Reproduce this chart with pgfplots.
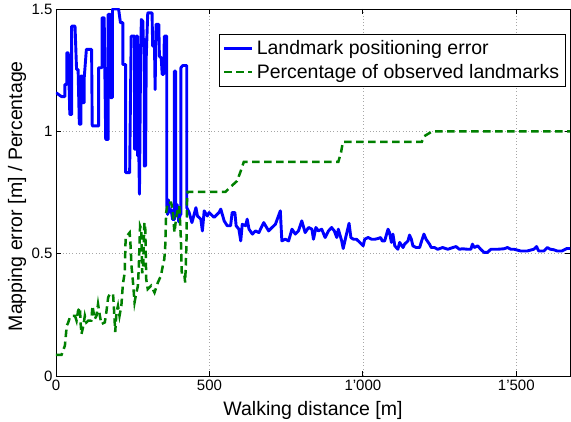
\documentclass[border=0pt]{standalone}
\usepackage{pgfplots}
\pgfplotsset{compat=1.18}
\usepackage{fontspec}
\setmainfont{Liberation Sans}
\usetikzlibrary{calc}
\definecolor{mblue}{rgb}{0,0,1}
\definecolor{mgreen}{rgb}{0,0.5,0}

\begin{document}
\begin{tikzpicture}
\begin{axis}[
  scale only axis, width=514pt, height=367pt,
  xmin=0, xmax=1675, ymin=0, ymax=1.5,
  xtick={0,500,1000,1500}, xticklabels={0,500,\mbox{1’000},\mbox{1’500}},
  ytick={0,0.5,1,1.5}, yticklabels={0,0.5,1,1.5},
  tick align=inside, major tick length=5pt,
  axis line style={line width=0.9pt},
  every tick/.style={black, line width=0.8pt},
  grid=major, grid style={gray!70, line width=0.7pt, dash pattern=on 0.7pt off 2.6pt},
  /pgf/number format/assume math mode=true,
  tick label style={font=\fontsize{15}{18}\selectfont},
  label style={font=\fontsize{19.5}{23}\selectfont},
  xlabel={Walking distance [m]},
  ylabel={Mapping error [m] / Percentage},
  xlabel style={at={(axis description cs:0.5,-0.094)}, anchor=center},
  ylabel style={at={(axis description cs:-0.0759,0.49)}, anchor=center},
  legend style={at={(axis description cs:0.992,0.933)}, anchor=north east,
    draw=black, fill=white,
    font=\fontsize{19.5}{23}\selectfont, inner sep=3.5pt, row sep=2.5pt,
    nodes={inner sep=3pt}},
  legend cell align=left,
  legend image code/.code={\draw[#1] (0pt,0pt) -- (28pt,0pt);},
]
\addplot[mblue, line width=2.9pt, line join=round] coordinates {
(0,1.158)(18,1.142)(29,1.142)(29,1.192)(35,1.192)(35,1.321)(40,1.321)(45,1.069)(51,1.069)(51,1.43)
(62,1.43)(67,1.253)(72,1.253)(76,1.029)(81,1.029)(81,1.226)(86,1.226)(86,1.117)(92,1.117)(92,1.219)
(99,1.335)(116,1.335)(118,1.022)(139,1.022)(139,1.26)(150,1.26)(150,1.464)(157,1.464)(162,0.967)(170,0.967)
(170,1.478)(177,1.478)(177,1.138)(184,1.138)(184,1.50)(204,1.50)(210,1.444)(218,1.444)(218,1.273)(227,1.273)
(227,0.831)(240,0.831)(245,1.389)(256,1.389)(256,0.927)(262,0.927)(262,1.389)(266,1.389)(266,0.90)(270,0.90)
(272,0.743)(275,1.2)(278,1.457)(283,1.45)(285,1.348)(288,1.376)(288,0.858)(292,0.86)(294,1.30)(299,1.484)
(313,1.484)(315,1.348)(321,1.348)(323,1.171)(326,1.437)(335,1.437)(337,1.307)(343,1.30)(346,1.233)(351,1.233)
(353,1.389)(361,1.389)(361,0.70)(364,0.66)(366,0.72)(370,0.67)(375,0.68)(380,0.64)(386,0.64)(386,1.246)
(390,1.246)(390,0.67)(395,0.70)(400,0.63)(405,0.66)(407,0.66)(407,1.26)(413,1.269)(426,1.269)(426,0.688)
(434,0.668)(443,0.627)(456,0.688)(461,0.654)(472,0.641)(477,0.593)(483,0.675)(493,0.654)(499,0.668)(515,0.648)
(531,0.668)(537,0.682)(548,0.634)(558,0.614)(569,0.614)(574,0.668)(583,0.668)(587,0.614)(596,0.600)(602,0.552)
(607,0.620)(618,0.614)(623,0.641)(629,0.600)(640,0.580)(650,0.593)(661,0.586)(677,0.627)(683,0.614)(693,0.593)
(704,0.607)(715,0.620)(731,0.675)(736,0.552)(747,0.559)(758,0.552)(769,0.600)(780,0.580)(790,0.593)(801,0.634)
(812,0.586)(823,0.607)(834,0.600)(839,0.559)(847,0.607)(855,0.593)(866,0.600)(877,0.566)(888,0.593)(898,0.607)
(907,0.593)(915,0.566)(920,0.600)(931,0.552)(936,0.521)(944,0.566)(955,0.624)(961,0.566)(969,0.559)(979,0.559)
(990,0.546)(1001,0.532)(1006,0.559)(1017,0.566)(1028,0.559)(1039,0.559)(1050,0.562)(1058,0.566)(1063,0.552)(1071,0.552)
(1082,0.600)(1087,0.586)(1093,0.546)(1098,0.580)(1104,0.532)(1114,0.518)(1120,0.546)(1131,0.525)(1136,0.539)(1147,0.552)
(1152,0.576)(1158,0.559)(1163,0.532)(1174,0.525)(1185,0.525)(1190,0.546)(1199,0.580)(1206,0.559)(1217,0.539)(1223,0.525)
(1233,0.525)(1244,0.518)(1260,0.525)(1277,0.518)(1293,0.525)(1304,0.529)(1314,0.518)(1325,0.520)(1341,0.518)(1352,0.518)
(1357,0.539)(1363,0.525)(1374,0.532)(1384,0.518)(1395,0.505)(1406,0.505)(1417,0.518)(1439,0.518)(1460,0.520)(1471,0.525)
(1482,0.518)(1493,0.518)(1514,0.511)(1536,0.511)(1557,0.518)(1566,0.529)(1573,0.511)(1590,0.511)(1601,0.525)(1611,0.518)
(1622,0.516)(1633,0.511)(1649,0.511)(1665,0.521)(1675,0.521)
};
\addlegendentry{Landmark positioning error}
\addplot[mgreen, line width=2.5pt, dash pattern=on 7.5pt off 4.5pt] coordinates {
(0,0.086)(18,0.086)(29,0.124)(35,0.205)(40,0.219)(45,0.239)(51,0.246)(62,0.246)(67,0.226)(72,0.267)
(78,0.280)(80,0.219)(83,0.171)(89,0.205)(94,0.246)(99,0.219)(105,0.226)(115,0.226)(119,0.287)(126,0.232)
(132,0.246)(137,0.294)(143,0.246)(148,0.212)(159,0.219)(164,0.260)(170,0.321)(175,0.335)(186,0.335)(190,0.250)
(193,0.180)(197,0.260)(202,0.287)(207,0.246)(213,0.287)(218,0.376)(224,0.423)(227,0.566)(233,0.575)(240,0.586)
(243,0.532)(246,0.45)(250,0.396)(256,0.301)(261,0.335)(267,0.369)(270,0.45)(274,0.613)(278,0.60)(281,0.42)
(284,0.45)(288,0.627)(291,0.60)(294,0.396)(299,0.355)(310,0.369)(321,0.341)(332,0.382)(342,0.410)(348,0.450)
(353,0.478)(356,0.532)(359,0.668)(364,0.709)(375,0.709)(380,0.682)(386,0.586)(391,0.641)(397,0.682)(402,0.695)
(407,0.559)(410,0.416)(418,0.416)(421,0.382)(425,0.532)(427,0.722)(429,0.753)(553,0.753)(562,0.765)(575,0.78)
(590,0.797)(601,0.834)(612,0.875)(920,0.875)(929,0.915)(935,0.957)(1192,0.957)(1200,0.98)(1226,1.0)(1675,1.0)
};
\addlegendentry{Percentage of observed landmarks}
\coordinate (SW) at (rel axis cs:0,0);
\coordinate (NE) at (rel axis cs:1,1);
\end{axis}
\pgfresetboundingbox
\path[use as bounding box] ($(SW)+(-56pt,-46pt)$) rectangle ($(NE)+(1pt,9pt)$);
\end{tikzpicture}
\end{document}
